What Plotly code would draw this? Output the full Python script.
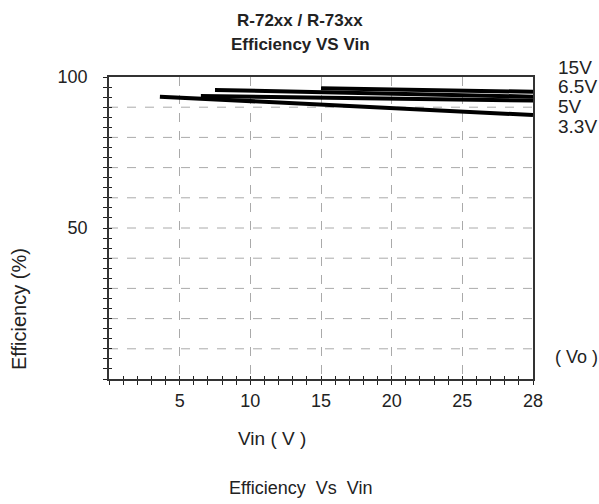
import plotly.graph_objects as go

# Data (x in axis units; the right edge tick is labelled "28")
series_names = ["15V", "6.5V", "5V", "3.3V"]
vin_15 = [15.0, 30.0]
eff_15 = [96.3, 95.1]
vin_65 = [7.5, 30.0]
eff_65 = [95.7, 93.5]
vin_5 = [6.5, 30.0]
eff_5 = [93.7, 92.2]
vin_33 = [3.6, 30.0]
eff_33 = [93.5, 87.4]

x_tickvals = [5, 10, 15, 20, 25, 30]
x_ticktext = ["5", "10", "15", "20", "25", "28"]
y_tickvals = [50, 100]
y_ticktext = ["50", "100"]

FONT = "Liberation Sans, Arial, Helvetica, sans-serif"
TXT = "#222"

fig = go.Figure()
for xs, ys in [(vin_15, eff_15), (vin_65, eff_65), (vin_5, eff_5), (vin_33, eff_33)]:
    fig.add_trace(go.Scatter(x=xs, y=ys, mode="lines",
                             line=dict(color="black", width=4), showlegend=False,
                             hoverinfo="skip"))
# helper invisible trace for overlay axes (inside ticks)
fig.add_trace(go.Scatter(x=[0], y=[0], xaxis="x2", yaxis="y2", mode="markers",
                         marker=dict(opacity=0), showlegend=False, hoverinfo="skip"))

L, R, T, B = 109, 66, 77, 125
W, H = 599, 504

fig.update_layout(
    width=W, height=H,
    margin=dict(l=L, r=R, t=T, b=B),
    paper_bgcolor="white", plot_bgcolor="white",
    font=dict(family=FONT, size=18, color=TXT),
    xaxis=dict(range=[0, 30], tickmode="array", tickvals=x_tickvals, ticktext=x_ticktext,
               showgrid=True, gridcolor="#aaaaaa", griddash="dash", gridwidth=1,
               ticks="outside", ticklen=4, tickcolor="#222", tickwidth=1,
               showline=True, linecolor="#333", linewidth=1.5, mirror=True,
               minor=dict(dtick=1, tick0=0, ticks="outside", ticklen=4, tickcolor="#222", showgrid=False),
               zeroline=False, tickfont=dict(size=18), ticklabelstandoff=1, fixedrange=True),
    yaxis=dict(range=[0, 100], tickmode="array", tickvals=y_tickvals, ticktext=y_ticktext,
               showgrid=False,
               ticks="outside", ticklen=4, tickcolor="#222", tickwidth=1,
               showline=True, linecolor="#333", linewidth=1.5, mirror=True,
               minor=dict(dtick=10 / 3, tick0=0, ticks="outside", ticklen=4, tickcolor="#222",
                          showgrid=False),
               zeroline=False, tickfont=dict(size=18), ticklabelstandoff=12, fixedrange=True),
    xaxis2=dict(range=[0, 30], overlaying="x", side="bottom", tickmode="linear", tick0=0, dtick=1,
                ticks="inside", ticklen=3, tickcolor="#222", showticklabels=False,
                showgrid=False, showline=False, zeroline=False),
    yaxis2=dict(range=[0, 100], overlaying="y", side="left", tickmode="linear", tick0=0, dtick=10 / 3,
                ticks="inside", ticklen=3, tickcolor="#222", showticklabels=False,
                showgrid=False, showline=False, zeroline=False),
)

# horizontal dashed gridlines every 10
for v in range(10, 100, 10):
    fig.add_shape(type="line", xref="paper", x0=0, x1=1, yref="y", y0=v, y1=v,
                  line=dict(color="#aaaaaa", width=1, dash="dash"), layer="below")

pw = W - L - R
ph = H - T - B

def px_x(px):
    return (px - L) / pw

def px_y(py):
    return (H - B - py) / ph

def note(text, px, py, size, anchor="center", bold=False, angle=0):
    fig.add_annotation(text=f"<b>{text}</b>" if bold else text, xref="paper", yref="paper",
                       x=px_x(px), y=px_y(py), xanchor=anchor, yanchor="middle",
                       showarrow=False, textangle=angle,
                       font=dict(family=FONT, size=size, color=TXT))

# title lines
note("R-72xx / R-73xx", 300, 21, 17, bold=True)
note("Efficiency VS Vin", 300, 44, 17, bold=True)

label_ys = [68, 87, 107, 127]
for name, py in zip(series_names, label_ys):
    note(name, 556, py, 19, anchor="left")

note("( Vo )", 576, 357, 18)
note("Vin ( V )", 272, 438, 19)
note("Efficiency  Vs  Vin", 300, 488, 18)
note("Efficiency (%)", 19, 309, 20, angle=-90)

fig.write_html("out.html", config={"displayModeBar": False},
               post_script="document.body.style.margin='0px';document.body.style.overflow='hidden';")
